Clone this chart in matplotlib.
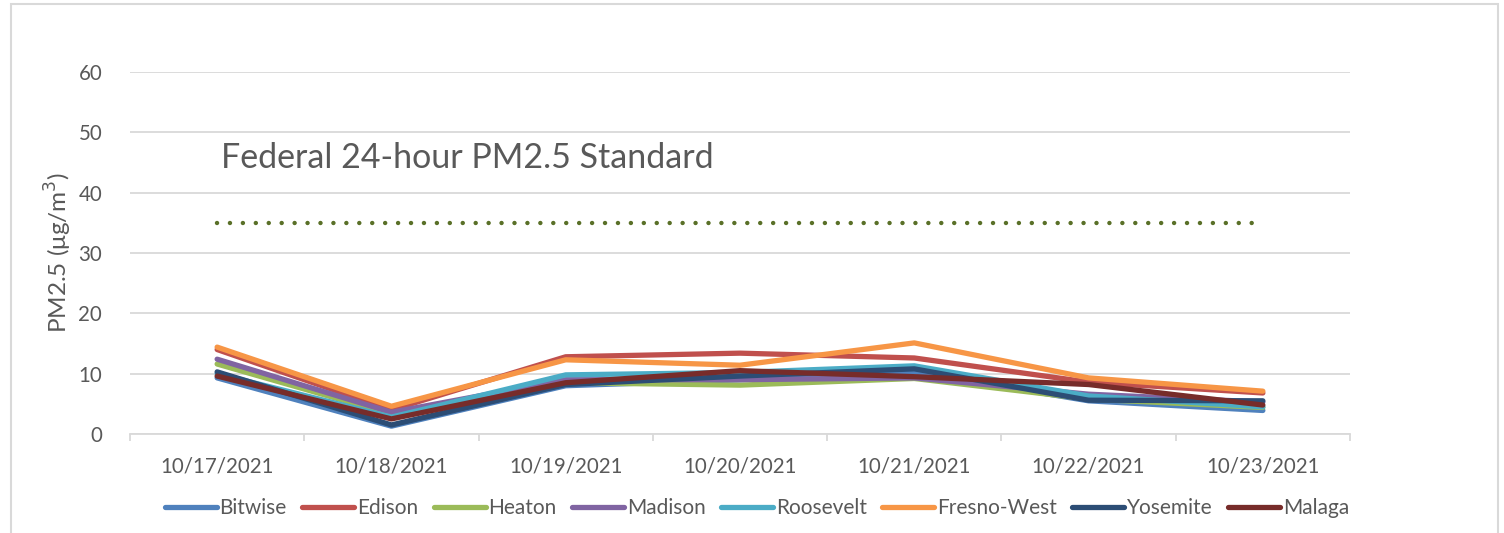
import numpy as np
import matplotlib.pyplot as plt
from matplotlib.patches import Rectangle

plt.rcParams['font.family'] = ['Lato', 'DejaVu Sans']

dates = ["10/17/2021", "10/18/2021", "10/19/2021", "10/20/2021",
         "10/21/2021", "10/22/2021", "10/23/2021"]

# daily PM2.5 by site (ug/m3)
bitwise = [9.3, 1.3, 8.0, 9.0, 10.3, 5.5, 3.9]
edison = [14.0, 4.0, 12.8, 13.4, 12.6, 8.6, 6.8]
heaton = [11.6, 3.3, 8.5, 8.1, 9.2, 5.8, 4.4]
madison = [12.4, 3.6, 9.0, 9.0, 9.3, 6.6, 5.3]
roosevelt = [10.0, 2.8, 9.8, 10.2, 11.3, 6.3, 4.5]
fresno_west = [14.4, 4.6, 12.3, 11.4, 15.1, 9.3, 7.1]
yosemite = [10.3, 1.5, 8.2, 9.6, 10.8, 5.6, 5.5]
malaga = [9.6, 2.5, 8.5, 10.5, 9.5, 8.2, 4.8]
standard = 35

sites = ["Bitwise", "Edison", "Heaton", "Madison", "Roosevelt",
         "Fresno-West", "Yosemite", "Malaga"]
values = [bitwise, edison, heaton, madison, roosevelt, fresno_west, yosemite, malaga]
colors = ["#4F81BD", "#C0504D", "#9BBB59", "#8064A2", "#4BACC6",
          "#F79646", "#2C4D75", "#772C2A"]

txt = "#595959"
grid = "#d9d9d9"

fig = plt.figure(figsize=(15.04, 5.33), dpi=100)
fig.patches.append(Rectangle((11 / 1504, -0.1), (1498 - 11) / 1504, 1.1 - 4 / 533,
                             transform=fig.transFigure, fill=False,
                             edgecolor=grid, linewidth=1.5))
ax = fig.add_axes([130 / 1504, 1 - 434 / 533, 1220 / 1504, 362 / 533])

x = np.arange(len(dates))
ax.plot(x, [standard] * len(x), color="#5a7028", linewidth=3.2,
        dashes=(0.01, 2.9), dash_capstyle="round")
ax.text(0.02, 45.8, "Federal 24-hour PM2.5 Standard", fontsize=24.5,
        color=txt, va="center", ha="left")

for name, vals, c in zip(sites, values, colors):
    ax.plot(x, vals, color=c, linewidth=3.8, label=name,
            solid_joinstyle="round", solid_capstyle="round")

ax.set_xlim(-0.5, len(dates) - 0.5)
ax.set_ylim(0, 60)
ax.set_yticks(range(0, 61, 10))
ax.set_xticks(x)
ax.set_xticklabels(dates)
ax.set_xticks(np.arange(-0.5, len(dates)), minor=True)
ax.grid(axis="y", color=grid, linewidth=1.3)
ax.set_axisbelow(True)
for s in ["top", "right", "left"]:
    ax.spines[s].set_visible(False)
ax.spines["bottom"].set_color(grid)
ax.spines["bottom"].set_linewidth(1.3)
ax.tick_params(axis="x", which="major", length=0, pad=16, labelsize=14.8, labelcolor=txt)
ax.tick_params(axis="x", which="minor", length=5, width=1.3, color=grid)
ax.tick_params(axis="y", length=0, pad=20, labelsize=14.8, labelcolor=txt)
ax.set_ylabel("PM2.5 (μg/m$^3$)", fontsize=17.5, color=txt, labelpad=3)

ax.legend(loc="center", bbox_to_anchor=(757 / 1504, 1 - 508 / 533),
          bbox_transform=fig.transFigure, ncol=8, frameon=False,
          fontsize=15, labelcolor=txt, handlelength=2.5, handletextpad=0.12,
          columnspacing=0.75)

fig.savefig("out.png", dpi=100)
